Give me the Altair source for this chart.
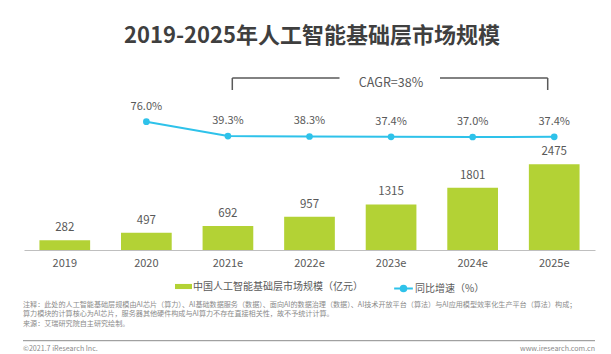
import altair as alt
import pandas as pd

years = ["2019", "2020", "2021e", "2022e", "2023e", "2024e", "2025e"]
market = [282, 497, 692, 957, 1315, 1801, 2475]
growth_years = ["2020", "2021e", "2022e", "2023e", "2024e", "2025e"]
growth = [76.0, 39.3, 38.3, 37.4, 37.0, 37.4]

bar_name = "中国人工智能基础层市场规模（亿元）"
line_name = "同比增速（%）"
title_text = "2019-2025年人工智能基础层市场规模"
cagr_text = "CAGR=38%"
note_lines = [
    "注释：此处的人工智能基础层规模由AI芯片（算力）、AI基础数据服务（数据）、面向AI的数据治理（数据）、AI技术开放平台（算法）与AI应用模型效率化生产平台（算法）构成；",
    "算力模块的计算核心为AI芯片，服务器其他硬件构成与AI算力不存在直接相关性，故不予统计计算。",
    "来源：艾瑞研究院自主研究绘制。",
]
copyright_text = "©2021.7 iResearch Inc."
site_text = "www.iresearch.com.cn"

FONT = "Noto Sans CJK SC"
GREEN = "#b3d235"
CYAN = "#2ec2ea"
GRAY = "#595959"

bar_df = pd.DataFrame({"year": years, "value": market, "series": bar_name})
line_df = pd.DataFrame({"year": growth_years, "growth": growth, "series": line_name})

x_enc = alt.X(
    "year:N",
    sort=years,
    scale=alt.Scale(domain=years, paddingInner=0.38, paddingOuter=0.19),
    axis=alt.Axis(
        title=None, labelAngle=0, ticks=False, tickSize=0, labelPadding=7,
        labelFontSize=11, labelColor=GRAY, labelFont=FONT,
        domainColor="#bfbfbf", domainWidth=1, grid=False,
    ),
)

y_bar = alt.Y("value:Q", scale=alt.Scale(domain=[0, 5198], nice=False, zero=True), axis=None)
bars = alt.Chart(bar_df).mark_bar(size=50.7).encode(
    x=x_enc,
    y=y_bar,
    color=alt.Color(
        "series:N",
        scale=alt.Scale(domain=[bar_name], range=[GREEN]),
        legend=alt.Legend(
            title=None, orient="none", legendX=151, legendY=208, padding=0,
            symbolType="M-1,-0.3H1V0.3H-1Z", symbolSize=289, symbolStrokeWidth=0,
            labelOffset=1, labelFontSize=10, labelColor=GRAY, labelFont=FONT,
            labelLimit=400,
        ),
    ),
)
bar_text = alt.Chart(bar_df).mark_text(
    dy=-12, baseline="middle", fontSize=11.5, color=GRAY, font=FONT
).encode(x=alt.X("year:N", sort=years), y=y_bar, text=alt.Text("value:Q"))

y_line = alt.Y("growth:Q", scale=alt.Scale(domain=[-251, 207.8], nice=False, zero=False), axis=None)
line = alt.Chart(line_df).mark_line(strokeWidth=2).encode(
    x=alt.X("year:N", sort=years),
    y=y_line,
    stroke=alt.Stroke(
        "series:N",
        scale=alt.Scale(domain=[line_name], range=[CYAN]),
        legend=alt.Legend(
            title=None, orient="none", legendX=369, legendY=208, padding=0,
            symbolType="M-1,0H1M-0.3,0A0.3,0.3,0,1,1,0.3,0A0.3,0.3,0,1,1,-0.3,0Z",
            symbolSize=350, symbolStrokeWidth=2, symbolFillColor=CYAN,
            labelOffset=1, labelFontSize=10, labelColor=GRAY, labelFont=FONT,
            labelLimit=400,
        ),
    ),
)
pts = alt.Chart(line_df).mark_circle(size=45, opacity=1, color=CYAN).encode(
    x=alt.X("year:N", sort=years), y=y_line
)
line_text = alt.Chart(line_df).transform_calculate(
    label="format(datum.growth, '.1f') + '%'"
).mark_text(dy=-15, baseline="middle", fontSize=11, color=GRAY, font=FONT).encode(
    x=alt.X("year:N", sort=years), y=y_line, text="label:N"
)

one = pd.DataFrame({"k": [0]})


def txt(s, x, y, size, color, align="left", weight="normal", baseline="middle"):
    return alt.Chart(one).mark_text(
        align=align, baseline=baseline, fontSize=size, color=color, font=FONT, fontWeight=weight
    ).encode(x=alt.value(x), y=alt.value(y), text=alt.value(s))


def rule(x1, x2, y1, y2, color="#595959", w=1.5):
    return alt.Chart(one).mark_rule(color=color, strokeWidth=w).encode(
        x=alt.value(x1), x2=alt.value(x2), y=alt.value(y1), y2=alt.value(y2)
    )


annos = [
    txt(title_text, 288, -34, 22, "#3f3f3f", align="center", weight="bold"),
    rule(208.3, 315.5, 8, 8),
    rule(416, 523.7, 8, 8),
    rule(208.3, 208.3, 8, 20),
    rule(523.7, 523.7, 8, 20),
    txt(cagr_text, 367, 12.7, 12.5, GRAY, align="center"),
    txt(note_lines[0], -1, 234.8, 7.1, "#8a8a8a"),
    txt(note_lines[1], -1, 244.2, 7.1, "#8a8a8a"),
    txt(note_lines[2], -1, 253.6, 7.1, "#8a8a8a"),
    rule(-1, 571, 270.7, 270.7, color="#8c8c8c", w=1),
    txt(copyright_text, -1, 278.7, 7.1, "#8a8a8a"),
    txt(site_text, 571, 278.7, 7.1, "#8a8a8a", align="right"),
]

bar_layer = alt.layer(bars, bar_text)
line_layer = alt.layer(line, pts, line_text)

chart = alt.layer(bar_layer, line_layer, *annos).resolve_scale(
    y="independent"
).properties(
    width=571,
    height=180,
    autosize=alt.AutoSizeParams(type="none"),
    padding={"left": 24, "top": 70, "right": 16, "bottom": 104},
    background="white",
).configure_view(stroke=None)

chart.save("out.html", embed_options={"renderer": "svg", "actions": False})
